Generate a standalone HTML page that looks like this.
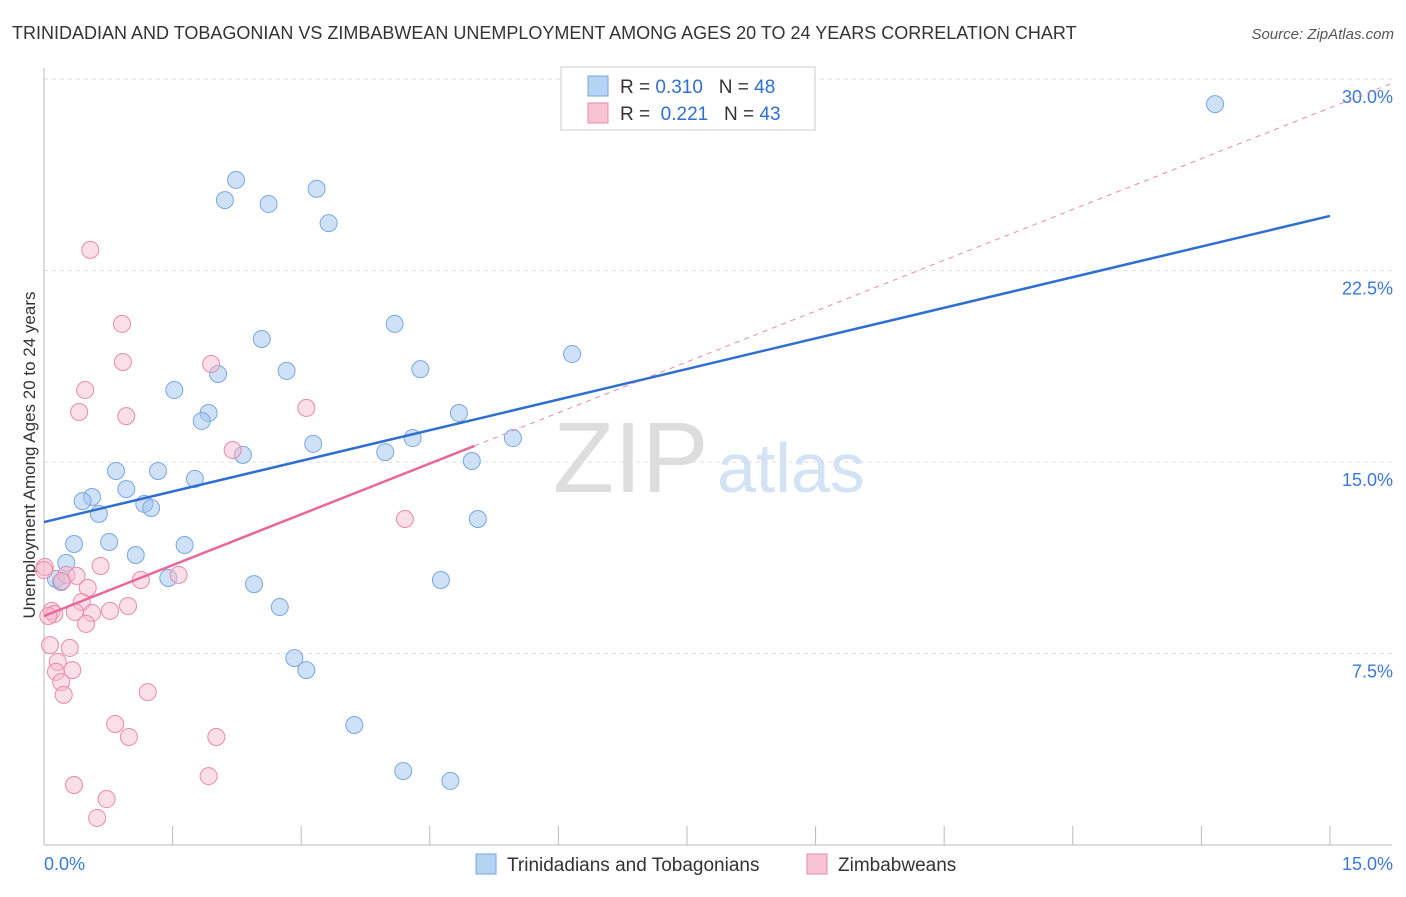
<!DOCTYPE html>
<html><head><meta charset="utf-8"><style>
body{margin:0;background:#fff;font-family:"Liberation Sans",sans-serif}
svg text{font-family:"Liberation Sans",sans-serif}
</style></head><body>
<svg id="c" width="1406" height="892">
<text x="12" y="39" font-size="18" fill="#333">TRINIDADIAN AND TOBAGONIAN VS ZIMBABWEAN UNEMPLOYMENT AMONG AGES 20 TO 24 YEARS CORRELATION CHART</text>
<text x="1394" y="39" font-size="15" fill="#555" text-anchor="end" font-style="italic">Source: ZipAtlas.com</text>
<text x="35" y="455" font-size="17" fill="#333" text-anchor="middle" transform="rotate(-90 35 455)">Unemployment Among Ages 20 to 24 years</text>
<g>
<text x="553" y="492" font-size="100" fill="#ddd" font-family="Liberation Serif,serif">ZIP</text>
<text x="717" y="492" font-size="70" fill="#d3e2f5">atlas</text>
</g>
<g id="grid"></g><g id="axes"></g><g id="marks"></g>
<g>
<rect x="561" y="67" width="254" height="63" fill="#fff" stroke="#ccc"/>
<rect x="588" y="76" width="20" height="20" fill="#b6d2f4" stroke="#7aa7e0"/>
<rect x="588" y="103" width="20" height="20" fill="#f9c4d4" stroke="#e88aa8"/>
<text x="620" y="93" font-size="19" fill="#333">R = <tspan fill="#2f6fd0">0.310</tspan>&#160;&#160;&#160;N = <tspan fill="#2f6fd0">48</tspan></text>
<text x="620" y="120" font-size="19" fill="#333">R = &#160;<tspan fill="#2f6fd0">0.221</tspan>&#160;&#160;&#160;N = <tspan fill="#2f6fd0">43</tspan></text>
</g>
<g>
<rect x="476" y="854" width="20" height="20" fill="#b6d2f4" stroke="#7aa7e0"/>
<text x="507" y="871" font-size="19" fill="#333">Trinidadians and Tobagonians</text>
<rect x="807" y="854" width="20" height="20" fill="#f9c4d4" stroke="#e88aa8"/>
<text x="838" y="871" font-size="19" fill="#333">Zimbabweans</text>
</g>
</svg>
<script>
const blueX=[13.66,2.24,3.18,2.11,2.62,3.32,4.09,2.54,6.16,4.39,2.83,2.03,1.52,1.92,4.84,1.84,4.30,5.47,3.14,3.98,2.32,4.99,0.84,1.33,1.76,0.96,0.56,0.45,1.17,1.25,0.64,5.06,0.76,0.35,1.64,1.07,0.26,0.14,0.20,1.45,4.63,2.45,2.75,2.92,3.06,3.62,4.19,4.74];
const blueY=[29.02,26.05,25.70,25.26,25.11,24.36,20.41,19.82,19.23,18.64,18.57,18.45,17.82,16.92,16.92,16.61,15.94,15.94,15.71,15.39,15.28,15.04,14.65,14.65,14.34,13.94,13.63,13.47,13.36,13.20,12.97,12.77,11.87,11.79,11.75,11.36,11.05,10.42,10.30,10.46,10.38,10.22,9.32,7.32,6.85,4.70,2.90,2.51];
const pinkX=[0.54,0.91,0.92,1.95,0.48,0.41,0.96,3.06,2.20,4.21,0.66,0.26,1.57,0.38,0.01,1.13,0.51,0.21,0.44,0.98,0.09,0.77,0.12,0.56,0.49,0.30,0.07,0.16,0.33,0.14,0.20,1.21,0.23,0.83,0.99,2.01,0.35,1.92,0.73,0.62,0.05,0.36,0.00];
const pinkY=[23.31,20.41,18.92,18.84,17.82,16.96,16.80,17.12,15.47,12.77,10.93,10.58,10.58,10.54,10.89,10.38,10.07,10.34,9.52,9.36,9.17,9.17,9.05,9.09,8.66,7.72,7.83,7.17,6.85,6.78,6.38,5.99,5.88,4.74,4.23,4.23,2.35,2.70,1.80,1.06,8.97,9.13,10.77];
const blueTrend=[12.65,24.64]; // y at x=0 and x=15
const pinkTrend=[8.97,1.327]; // intercept, slope
const yTicks=[7.5,15,22.5,30];
const yTickLabels=["7.5%","15.0%","22.5%","30.0%"];
const xTicks=[0,1.5,3,4.5,6,7.5,9,10.5,12,13.5,15];
const NS='http://www.w3.org/2000/svg';
const sx=v=>44+v*85.73, sy=v=>845-v*25.53;
function mk(t,a,p){const e=document.createElementNS(NS,t);for(const k in a)e.setAttribute(k,a[k]);document.getElementById(p).appendChild(e);return e;}
yTicks.forEach((t,i)=>{
 const l=mk('line',{x1:44,x2:1392,y1:sy(t),y2:sy(t),stroke:'#ddd','stroke-dasharray':'4,4'},'grid');
 
 
 const tx=mk('text',{x:1393,y:sy(t)+24,'font-size':18,fill:'#3a78d8','text-anchor':'end'},'grid');
 tx.textContent=yTickLabels[i];
 
 
});
const a1=mk('line',{x1:44,x2:44,y1:68,y2:845,stroke:'#bbb'},'axes');


const a2=mk('line',{x1:44,x2:1392,y1:845,y2:845,stroke:'#bbb'},'axes');


xTicks.forEach(t=>{if(t===0)return;const l=mk('line',{x1:sx(t),x2:sx(t),y1:826,y2:845,stroke:'#bbb'},'axes');
 
 });
[[0,'0.0%',44,'start'],[15,'15.0%',1393,'end']].forEach(d=>{const tx=mk('text',{x:d[2],y:870,'font-size':18,fill:'#3a78d8','text-anchor':d[3]},'axes');tx.textContent=d[1];
 
 });
blueX.forEach((x,i)=>{const c=mk('circle',{cx:sx(x),cy:sy(blueY[i]),r:8.5,fill:'rgba(160,196,240,0.5)',stroke:'#7aa7e0','stroke-width':1},'marks');
 
 });
pinkX.forEach((x,i)=>{const c=mk('circle',{cx:sx(x),cy:sy(pinkY[i]),r:8.5,fill:'rgba(246,184,204,0.45)',stroke:'#e88aa8','stroke-width':1},'marks');
 
 });
const pd=mk('line',{x1:sx(5.02),y1:sy(pinkTrend[0]+pinkTrend[1]*5.02),x2:sx(15.72),y2:sy(pinkTrend[0]+pinkTrend[1]*15.72),stroke:'#e88aa8','stroke-dasharray':'5,5','stroke-width':1},'marks');


const pl=mk('line',{x1:sx(0),y1:sy(pinkTrend[0]),x2:sx(5.02),y2:sy(pinkTrend[0]+pinkTrend[1]*5.02),stroke:'#e8679a','stroke-width':2.5},'marks');


const bl=mk('line',{x1:sx(0),y1:sy(blueTrend[0]),x2:sx(15),y2:sy(blueTrend[1]),stroke:'#2f6fd0','stroke-width':2.5},'marks');


</script>
</body></html>
